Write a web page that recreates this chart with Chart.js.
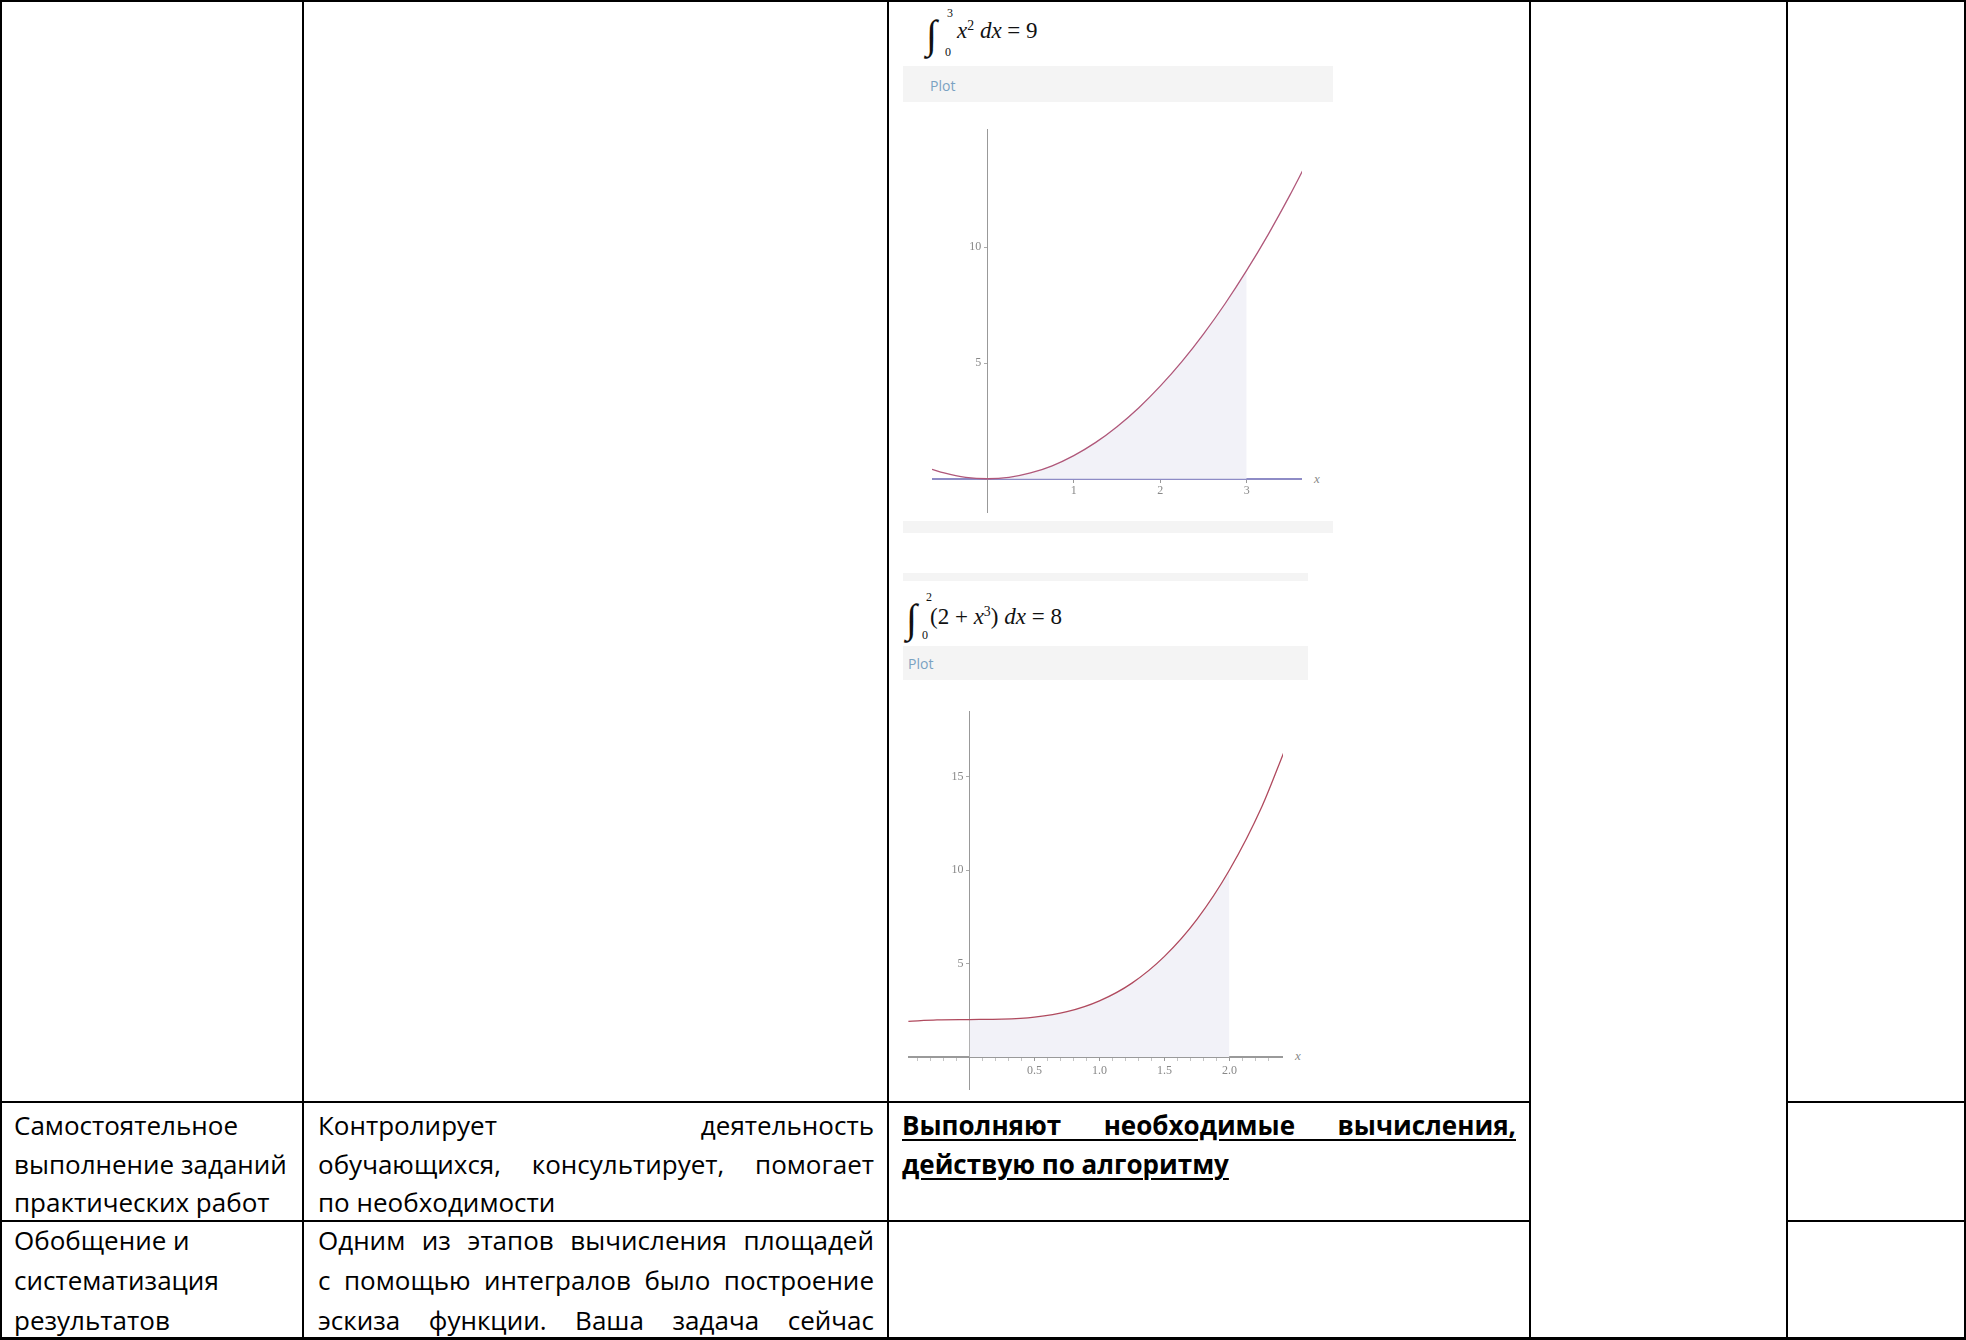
<!DOCTYPE html>
<html>
<head>
<meta charset="utf-8">
<script src="https://cdn.jsdelivr.net/npm/chart.js@4.4.1/dist/chart.umd.min.js"></script>
<style>
html, body { margin: 0; padding: 0; background: #fff; }
#page { position: relative; width: 1966px; height: 1340px; overflow: hidden; font-family: "Open Sans", sans-serif; color: #000; }
.hl, .vl { position: absolute; background: #000; }
.band { position: absolute; background: #f4f4f4; }
.txt { position: absolute; font-size: 26px; line-height: 40px; white-space: nowrap; }
.just { white-space: normal; text-align: justify; text-align-last: justify; }
.bold { font-weight: 700; text-decoration: underline; text-decoration-thickness: 2px; text-underline-offset: 4px; }
.fm { position: absolute; font-family: "Liberation Serif", serif; line-height: 1; white-space: nowrap; color: #111; }
.fm sup { font-size: 0.6em; vertical-align: 0.55em; line-height: 0; }
.plotlbl { position: absolute; font-size: 14px; line-height: 16px; color: #7aa2c2; }
.axlbl { position: absolute; font-family: "Liberation Serif", serif; font-style: italic; font-size: 13px; line-height: 18px; color: #888; }
canvas { position: absolute; }
</style>
</head>
<body>
<div id="page">
  <!-- plot image backgrounds -->
  <div class="band" style="left:903px;top:66px;width:430px;height:36px;"></div>
  <div class="band" style="left:903px;top:521px;width:430px;height:12px;"></div>
  <div class="band" style="left:903px;top:573px;width:405px;height:8px;"></div>
  <div class="band" style="left:903px;top:646px;width:405px;height:34px;"></div>

  <!-- formula 1 -->
  <div class="fm" style="left:926px;top:15px;font-size:40px;">∫</div>
  <div class="fm" style="left:947px;top:7px;font-size:12px;">3</div>
  <div class="fm" style="left:945px;top:46px;font-size:12px;">0</div>
  <div class="fm" style="left:957px;top:19px;font-size:23px;"><i>x</i><sup>2</sup> <i>dx</i> = 9</div>
  <div class="plotlbl" style="left:930px;top:78px;">Plot</div>

  <!-- formula 2 -->
  <div class="fm" style="left:906px;top:599px;font-size:40px;">∫</div>
  <div class="fm" style="left:926px;top:591px;font-size:12px;">2</div>
  <div class="fm" style="left:922px;top:629px;font-size:12px;">0</div>
  <div class="fm" style="left:930px;top:605px;font-size:23px;">(2 + <i>x</i><sup>3</sup>) <i>dx</i> = 8</div>
  <div class="plotlbl" style="left:908px;top:656px;">Plot</div>

  <canvas id="plot1" width="370" height="404" style="left:932px;top:119px;"></canvas>
  <canvas id="plot2" width="375" height="399" style="left:908px;top:701px;"></canvas>
  <div class="axlbl" style="left:1314px;top:470px;">x</div>
  <div class="axlbl" style="left:1295px;top:1047px;">x</div>

  <!-- table rules -->
  <div class="hl" style="left:0;top:0;width:1966px;height:2px;"></div>
  <div class="hl" style="left:0;top:1101px;width:1531px;height:2px;"></div>
  <div class="hl" style="left:1786px;top:1101px;width:180px;height:2px;"></div>
  <div class="hl" style="left:0;top:1220px;width:1531px;height:2px;"></div>
  <div class="hl" style="left:1786px;top:1220px;width:180px;height:2px;"></div>
  <div class="hl" style="left:0;top:1337px;width:1966px;height:3px;"></div>
  <div class="vl" style="left:0;top:0;width:2px;height:1340px;"></div>
  <div class="vl" style="left:302px;top:0;width:2px;height:1340px;"></div>
  <div class="vl" style="left:887px;top:0;width:2px;height:1340px;"></div>
  <div class="vl" style="left:1529px;top:0;width:2px;height:1340px;"></div>
  <div class="vl" style="left:1786px;top:0;width:2px;height:1340px;"></div>
  <div class="vl" style="left:1964px;top:0;width:2px;height:1340px;"></div>

  <!-- row: самостоятельное выполнение -->
  <div class="txt" style="left:14px;top:1105px;">Самостоятельное</div>
  <div class="txt" style="left:14px;top:1144px;">выполнение заданий</div>
  <div class="txt" style="left:14px;top:1182px;">практических работ</div>
  <div class="txt just" style="left:318px;top:1105px;width:556px;">Контролирует деятельность</div>
  <div class="txt just" style="left:318px;top:1144px;width:556px;">обучающихся, консультирует, помогает</div>
  <div class="txt" style="left:318px;top:1182px;">по необходимости</div>
  <div class="txt just bold" style="left:902px;top:1105px;width:614px;">Выполняют необходимые вычисления,</div>
  <div class="txt bold" style="left:902px;top:1144px;">действую по алгоритму</div>

  <!-- row: обобщение -->
  <div class="txt" style="left:14px;top:1220px;">Обобщение и</div>
  <div class="txt" style="left:14px;top:1260px;">систематизация</div>
  <div class="txt" style="left:14px;top:1300px;">результатов</div>
  <div class="txt just" style="left:318px;top:1220px;width:556px;">Одним из этапов вычисления площадей</div>
  <div class="txt just" style="left:318px;top:1260px;width:556px;">с помощью интегралов было построение</div>
  <div class="txt just" style="left:318px;top:1300px;width:556px;">эскиза функции. Ваша задача сейчас</div>
</div>

<script>
// plot 1: integral of x^2 from 0 to 3
const curve1X = [-0.64, -0.5, -0.25, 0, 0.25, 0.5, 0.75, 1, 1.25, 1.5, 1.75, 2, 2.25, 2.5, 2.75, 3, 3.25, 3.5, 3.66];
const curve1Y = [0.41, 0.25, 0.06, 0, 0.06, 0.25, 0.56, 1.0, 1.56, 2.25, 3.06, 4.0, 5.06, 6.25, 7.56, 9.0, 10.56, 12.25, 13.4];
const shade1 = [0, 3];
const xTicks1 = [1, 2, 3];
const xTickLabels1 = ['1', '2', '3'];
const yTicks1 = [5, 10];

// plot 2: integral of 2 + x^3 from 0 to 2
const curve2X = [-0.47, -0.25, 0, 0.25, 0.5, 0.75, 1, 1.25, 1.5, 1.75, 2, 2.25, 2.43];
const curve2Y = [1.9, 1.98, 2.0, 2.02, 2.13, 2.42, 3.0, 3.95, 5.38, 7.36, 10.0, 13.4, 16.5];
const shade2 = [0, 2];
const xTicks2 = [-0.4, -0.3, -0.2, -0.1, 0.1, 0.2, 0.3, 0.4, 0.5, 0.6, 0.7, 0.8, 0.9, 1.0, 1.1, 1.2,
                 1.3, 1.4, 1.5, 1.6, 1.7, 1.8, 1.9, 2.0, 2.1, 2.2, 2.3];
const xTickLabels2 = ['', '', '', '', '', '', '', '', '0.5', '', '', '', '', '1.0', '', '', '', '',
                      '1.5', '', '', '', '', '2.0', '', '', ''];
const yTicks2 = [5, 10, 15];

function toPoints(xs, ys) {
    return xs.map(function (x, i) { return { x: x, y: ys[i] }; });
}

function makePlot(id, p) {
    const curve = toPoints(p.xs, p.ys);
    const shaded = curve.filter(function (pt) { return pt.x >= p.shade[0] && pt.x <= p.shade[1]; });
    const tickFont = { family: 'Liberation Serif', size: 12 };

    return new Chart(document.getElementById(id).getContext('2d'), {
        type: 'scatter',
        data: {
            datasets: [
                {
                    data: curve,
                    showLine: true,
                    borderColor: p.curveColor,
                    borderWidth: 1.3,
                    pointRadius: 0,
                    cubicInterpolationMode: 'monotone',
                    fill: false,
                    order: 1
                },
                {
                    data: shaded,
                    showLine: true,
                    borderWidth: 0,
                    pointRadius: 0,
                    backgroundColor: '#f2f2f8',
                    cubicInterpolationMode: 'monotone',
                    fill: 'origin',
                    order: 2
                }
            ]
        },
        options: {
            responsive: false,
            animation: false,
            layout: { padding: 0 },
            plugins: { legend: { display: false }, tooltip: { enabled: false } },
            scales: {
                x: {
                    type: 'linear',
                    min: p.xMin,
                    max: p.xMax,
                    position: { y: 0 },
                    border: { color: p.xAxisColor, width: 2 },
                    grid: {
                        drawOnChartArea: false, drawTicks: true, tickLength: 3,
                        tickColor: function (ctx) { return p.xLabels[ctx.index] ? '#999' : '#c4c4c4'; }
                    },
                    ticks: {
                        color: '#888', font: tickFont, padding: p.xPad, autoSkip: false, maxRotation: 0,
                        callback: function (v, i) { return p.xLabels[i]; }
                    },
                    afterBuildTicks: function (axis) {
                        axis.ticks = p.xTicks.map(function (v) { return { value: v }; });
                    }
                },
                y: {
                    type: 'linear',
                    min: p.yMin,
                    max: p.yMax,
                    position: { x: 0 },
                    border: { color: '#999', width: 1 },
                    grid: { drawOnChartArea: false, drawTicks: true, tickLength: 3, color: '#aaa' },
                    ticks: {
                        color: '#888', font: tickFont, padding: 3, autoSkip: false,
                        // labels sit left of the axis line, keep a small gap
                        callback: function (v) { return v + '\u2002'; }
                    },
                    afterBuildTicks: function (axis) {
                        axis.ticks = p.yTicks.map(function (v) { return { value: v }; });
                    }
                }
            }
        }
    });
}

makePlot('plot1', {
    xs: curve1X, ys: curve1Y, shade: shade1,
    xTicks: xTicks1, xLabels: xTickLabels1, yTicks: yTicks1,
    xMin: -0.64, xMax: 3.64, yMin: -1.47, yMax: 15.1,
    curveColor: '#b0587a', xAxisColor: '#8e8cc6', xPad: 2
});

makePlot('plot2', {
    xs: curve2X, ys: curve2Y, shade: shade2,
    xTicks: xTicks2, xLabels: xTickLabels2, yTicks: yTicks2,
    xMin: -0.473, xMax: 2.412, yMin: -1.76, yMax: 18.5,
    curveColor: '#b04a5e', xAxisColor: '#9a9a9a', xPad: 4
});
</script>
</body>
</html>
